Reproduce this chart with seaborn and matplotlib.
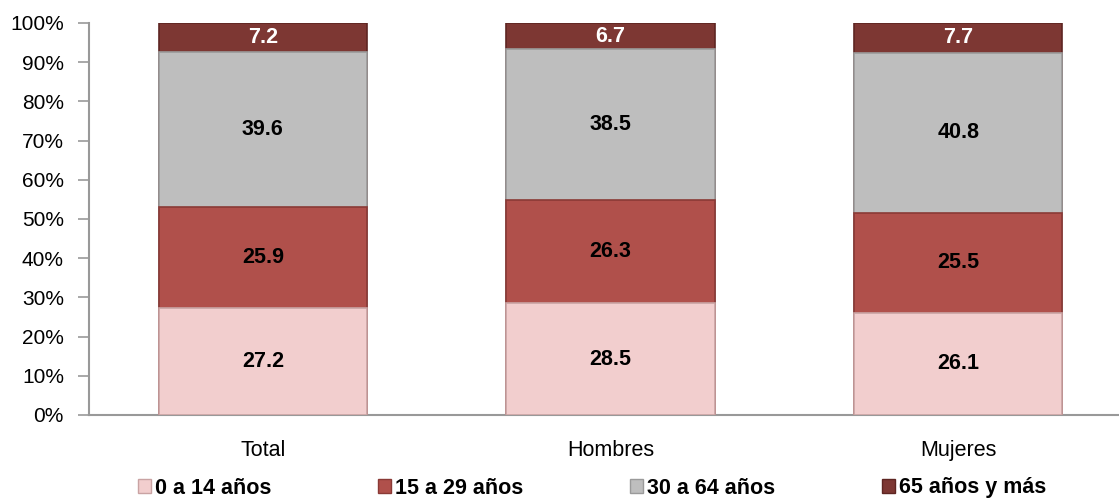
import numpy as np
import pandas as pd
import matplotlib
matplotlib.use("Agg")
import matplotlib.pyplot as plt
from matplotlib.patches import Patch
import seaborn as sns

categories = ["Total", "Hombres", "Mujeres"]
series_names = ["0 a 14 años", "15 a 29 años", "30 a 64 años", "65 años y más"]
v_0_14 = [27.2, 28.5, 26.1]
v_15_29 = [25.9, 26.3, 25.5]
v_30_64 = [39.6, 38.5, 40.8]
v_65 = [7.2, 6.7, 7.7]
yticklabels = ["0%", "10%", "20%", "30%", "40%", "50%", "60%", "70%", "80%", "90%", "100%"]

colors = ["#F2CECE", "#B0504B", "#BEBEBE", "#7D3733"]
edges = ["#C9A3A3", "#8A3A36", "#9A9A9A", "#5E2522"]
label_colors = ["black", "black", "black", "white"]

sns.set_theme(style="white")
plt.rcParams["font.family"] = ["Liberation Sans", "DejaVu Sans"]
plt.rcParams["text.color"] = "black"
plt.rcParams["xtick.color"] = "black"
plt.rcParams["ytick.color"] = "black"

fig = plt.figure(figsize=(11.19, 5.0), dpi=100)
ax = fig.add_axes([89 / 1119, 85 / 500, (1132 - 89) / 1119, 392 / 500])

vals = np.array([v_0_14, v_15_29, v_30_64, v_65])
cum = np.cumsum(vals, axis=0)

# stacked bars: draw the tallest cumulative first
for i in range(len(series_names) - 1, -1, -1):
    df = pd.DataFrame({"cat": categories, "val": cum[i]})
    sns.barplot(data=df, x="cat", y="val", order=categories, color=colors[i],
                width=0.6, edgecolor=edges[i], linewidth=1.2, ax=ax,
                saturation=1, errorbar=None, zorder=2 + (3 - i))

for i in range(len(series_names)):
    bottoms = cum[i] - vals[i]
    for j in range(len(categories)):
        ax.text(j, bottoms[j] + vals[i][j] / 2, f"{vals[i][j]:.1f}",
                ha="center", va="center", fontsize=15.5, fontweight="bold",
                color=label_colors[i], zorder=10)

ax.set_xlim(-0.5, 2.5)
ax.set_ylim(0, 100)
ax.set_yticks(np.arange(0, 101, 10))
ax.set_yticklabels(yticklabels, fontsize=15)
ax.set_xticks(range(3))
ax.set_xticklabels(categories, fontsize=15.5)
ax.set_xticks([-0.5, 0.5, 1.5, 2.5], minor=True)
ax.tick_params(axis="x", which="major", length=0, pad=18, colors="black")
ax.tick_params(axis="x", which="minor", length=8, width=1.5, color="#999999", direction="out")
ax.tick_params(axis="y", length=8, width=1.2, color="#999999", labelcolor="black",
               direction="out", left=True, pad=10)
ax.set_xlabel("")
ax.set_ylabel("")
for s in ["top", "right"]:
    ax.spines[s].set_visible(False)
for s in ["left", "bottom"]:
    ax.spines[s].set_color("#999999")
    ax.spines[s].set_linewidth(1.5)
ax.grid(False)

handles = [Patch(facecolor=colors[i], edgecolor=edges[i], linewidth=1) for i in range(4)]
leg = fig.legend(handles, series_names, loc="center", bbox_to_anchor=(592 / 1119, 1 - 488 / 500),
                 ncol=4, frameon=False, handlelength=0.6, handleheight=0.6,
                 handletextpad=0.2, columnspacing=4.95,
                 prop={"weight": "bold", "size": 15.5})
for t in leg.get_texts():
    t.set_color("black")

fig.savefig("out.png", dpi=100)
